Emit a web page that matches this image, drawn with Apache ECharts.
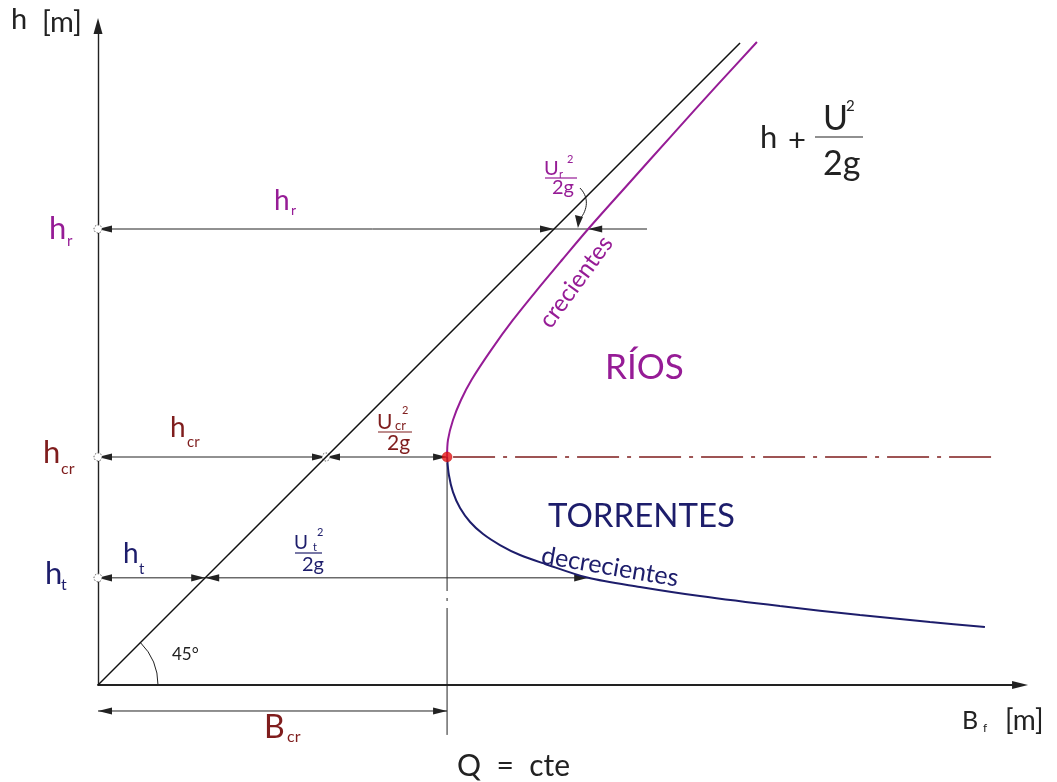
<!DOCTYPE html>
<html>
<head>
<meta charset="utf-8">
<script src="https://cdn.jsdelivr.net/npm/echarts@6/dist/echarts.min.js"></script>
<style>
  html, body { margin: 0; padding: 0; background: #ffffff; }
  #chart { width: 1057px; height: 782px; }
</style>
</head>
<body>
<div id="chart"></div>
<script>
// Specific energy B = h + U²/2g versus depth h for a constant discharge Q.
// Depths and energies are expressed relative to the critical depth (h_cr = 1).

const hCr = 1.00;            // critical depth
const bCr = 1.531;           // minimum specific energy B_cr
const hR = 2.00, eR = 2.15;  // subcritical (río) depth and its energy
const hT = 0.47, eT = 2.15;  // supercritical (torrente) depth and its energy
const hRLeaderEnd = 2.408;   // end of the h_r leader line
const bDimY = -0.114;        // level of the B_cr dimension line
const bLeadEnd = -0.219;     // lower end of the vertical line at B_cr
const critLineEnd = 3.934;   // end of the h_cr dash-dot line
const diagEnd = 2.816;       // end of the 45° line h = B

// Upper branch: ríos (crecientes) — [B, h]
const riosBranch = [
  [1.531, 1.000], [1.535, 1.075], [1.557, 1.162], [1.592, 1.250],
  [1.638, 1.338], [1.724, 1.469], [1.820, 1.601], [1.925, 1.732],
  [2.035, 1.864], [2.150, 2.000], [2.322, 2.193], [2.518, 2.412],
  [2.717, 2.632], [2.890, 2.820]
];

// Lower branch: torrentes (decrecientes) — [B, h]
const torrentesBranch = [
  [1.531, 1.000], [1.539, 0.921], [1.557, 0.846], [1.588, 0.776],
  [1.632, 0.715], [1.689, 0.662], [1.763, 0.614], [1.851, 0.570],
  [1.961, 0.531], [2.150, 0.470], [2.377, 0.430], [2.640, 0.390],
  [2.991, 0.346], [3.342, 0.307], [3.649, 0.276], [3.890, 0.254]
];

// axis ranges (same scale on both axes so that h = B runs at 45°)
const xMax = 4.044;
const yMax = 2.890;
const PX_PER_UNIT = 228;

const INK = '#222222';
const RIO = '#961c96';
const TOR = '#1d1d6b';
const CRIT = '#7f1d1d';
const DOT = '#e51515';
const FONT = 'Lato, "DejaVu Sans", sans-serif';

const chart = echarts.init(document.getElementById('chart'), null, { renderer: 'canvas' });

// text helper for the graphic layer
function txt(x, y, text, size, color, extra) {
  const el = {
    type: 'text', x: x, y: y, z: 50,
    style: {
      text: text, fontSize: size, fontFamily: FONT, fontWeight: 400, fill: color,
      align: 'left', verticalAlign: 'middle', textAlign: 'left', textVerticalAlign: 'middle'
    }
  };
  if (extra) {
    if (extra.rotation != null) el.rotation = extra.rotation;
    if (extra.center) {
      el.style.align = el.style.textAlign = 'center';
    }
  }
  return el;
}
function bar(x1, x2, y, color) {
  return { type: 'line', z: 50, shape: { x1: x1, y1: y, x2: x2, y2: y }, style: { stroke: color, lineWidth: 1.2 } };
}

// dimension lines, arrow heads, reference circles, 45° arc
function drawGuides(params, api) {
  const P = p => api.coord(p);
  const els = [];
  const seg = (a, b, stroke, w, dash) => els.push({
    type: 'line', shape: { x1: a[0], y1: a[1], x2: b[0], y2: b[1] },
    style: { stroke: stroke, lineWidth: w, lineDash: dash || null, fill: null }
  });
  const head = (p, sign) => {
    const L = 14, W = 3.6;
    els.push({ type: 'polygon', shape: { points: [[p[0], p[1]], [p[0] - sign * L, p[1] - W], [p[0] - sign * L, p[1] + W]] },
      style: { fill: INK } });
  };
  const ring = p => els.push({ type: 'circle', shape: { cx: p[0], cy: p[1], r: 4 },
    style: { stroke: '#555', lineWidth: 1, lineDash: [1.5, 1.5], fill: '#fff' } });

  // h_r row
  seg(P([0, hR]), P([hRLeaderEnd, hR]), INK, 1);
  head(P([0, hR]), -1); head(P([hR, hR]), 1); head(P([eR, hR]), -1);
  // h_cr row
  seg(P([0, hCr]), P([bCr, hCr]), INK, 1);
  head(P([0, hCr]), -1); head(P([hCr, hCr]), 1); head(P([hCr, hCr]), -1); head(P([bCr, hCr]), 1);
  // h_t row
  seg(P([0, hT]), P([eT, hT]), INK, 1);
  head(P([0, hT]), -1); head(P([hT, hT]), 1); head(P([hT, hT]), -1); head(P([eT, hT]), 1);
  // B_cr dimension
  seg(P([0, bDimY]), P([bCr, bDimY]), INK, 1);
  head(P([0, bDimY]), -1); head(P([bCr, bDimY]), 1);

  // vertical line through the critical point
  const vTop = P([bCr, hCr]);
  seg([vTop[0], vTop[1] + 6], P([bCr, bLeadEnd]), INK, 1, [128, 7, 3, 7]);
  // critical depth dash-dot line
  const cStart = P([bCr, hCr]);
  seg([cStart[0] + 6, cStart[1]], P([critLineEnd, hCr]), CRIT, 1.4, [42, 8, 4, 8]);

  ring(P([0, hR])); ring(P([0, hCr])); ring(P([0, hT])); ring(P([hCr, hCr]));

  // 45° angle arc
  const o = P([0, 0]);
  els.push({ type: 'arc', shape: { cx: o[0], cy: o[1], r: 60, startAngle: -Math.PI / 4, endAngle: 0, clockwise: true },
    style: { stroke: INK, lineWidth: 1, fill: null } });

  // curved pointer from U_r²/2g to the h_r row
  const tip = P([(hR + eR) / 2 + 0.03, hR]);
  els.push({ type: 'bezierCurve', shape: {
      x1: tip[0] + 2, y1: tip[1] - 41, cpx1: tip[0] + 13, cpy1: tip[1] - 30,
      cpx2: tip[0] + 8, cpy2: tip[1] - 16, x2: tip[0] + 1, y2: tip[1] - 9 },
    style: { stroke: INK, lineWidth: 1, fill: null } });
  els.push({ type: 'polygon', shape: { points: [[tip[0], tip[1] - 1], [tip[0] - 3, tip[1] - 14], [tip[0] + 5, tip[1] - 12]] },
    style: { fill: INK } });

  return { type: 'group', children: els };
}

const option = {
  animation: false,
  backgroundColor: '#ffffff',
  grid: { left: 98, top: 685 - yMax * PX_PER_UNIT, width: xMax * PX_PER_UNIT, height: yMax * PX_PER_UNIT },
  xAxis: {
    type: 'value', min: 0, max: xMax,
    axisLine: { show: true, symbol: ['none', 'triangle'], symbolSize: [8, 16], lineStyle: { color: INK, width: 1.8 } },
    axisTick: { show: false }, axisLabel: { show: false }, splitLine: { show: false }
  },
  yAxis: {
    type: 'value', min: 0, max: yMax,
    axisLine: { show: true, symbol: ['none', 'triangle'], symbolSize: [9, 16], lineStyle: { color: INK, width: 1.4 } },
    axisTick: { show: false }, axisLabel: { show: false }, splitLine: { show: false }
  },
  series: [
    {
      name: 'h = B', type: 'line', data: [[0, 0], [diagEnd, diagEnd]],
      symbol: 'none', lineStyle: { color: '#111', width: 1.5 }, z: 3
    },
    {
      name: 'ríos', type: 'line', data: riosBranch, smooth: 0.3,
      symbol: 'none', lineStyle: { color: RIO, width: 2 }, z: 4, clip: false
    },
    {
      name: 'torrentes', type: 'line', data: torrentesBranch, smooth: 0.3,
      symbol: 'none', lineStyle: { color: TOR, width: 2 }, z: 4, clip: false
    },
    {
      name: 'guides', type: 'custom', data: [[0, 0]], encode: { x: 0, y: 1 },
      renderItem: drawGuides, clip: false, z: 2, silent: true
    },
    {
      name: 'crítico', type: 'scatter', data: [[bCr, hCr]], symbolSize: 10,
      itemStyle: { color: DOT, borderColor: '#b00', borderWidth: 0.5 }, z: 6
    }
  ],
  graphic: [
    // axis titles
    txt(11, 20, 'h', 29, INK), txt(42, 23, '[m]', 29, INK),
    txt(962, 721, 'B', 25, INK), txt(983, 728, 'f', 12, INK), txt(1005, 721, '[m]', 28, INK),
    // depth labels on the h axis
    txt(49, 229, 'h', 31, RIO), txt(67, 241, 'r', 15, RIO),
    txt(43, 453, 'h', 31, CRIT), txt(61, 469, 'cr', 16, CRIT),
    txt(45, 574, 'h', 31, TOR), txt(61, 585, 't', 16, TOR),
    // labels above the dimension rows
    txt(274, 201, 'h', 28, RIO), txt(291, 210, 'r', 14, RIO),
    txt(170, 428, 'h', 28, CRIT), txt(187, 442, 'cr', 15, CRIT),
    txt(123, 554, 'h', 28, TOR), txt(139, 569, 't', 15, TOR),
    // velocity heads
    txt(544, 169, 'U', 20, RIO), txt(559, 174, 'r', 11, RIO), txt(567, 159, '2', 11, RIO),
    bar(545, 577, 178, RIO), txt(552, 188, '2g', 20, RIO),
    txt(377, 422, 'U', 21, CRIT), txt(395, 426, 'cr', 13, CRIT), txt(402, 410, '2', 11, CRIT),
    bar(378, 412, 432, CRIT), txt(387, 443, '2g', 21, CRIT),
    txt(294, 543, 'U', 19, TOR), txt(313, 547, 't', 11, TOR), txt(317, 532, '2', 11, TOR),
    bar(295, 322, 553, TOR), txt(302, 565, '2g', 20, TOR),
    // curve title
    txt(760, 138, 'h', 31, INK), txt(788, 141, '+', 31, INK),
    txt(823, 119, 'U', 34, INK), txt(846, 106, '2', 15, INK),
    bar(815, 863, 137, INK), txt(823, 164, '2g', 34, INK),
    // regimes
    txt(605, 368, 'RÍOS', 35, RIO),
    txt(548, 516, 'TORRENTES', 33, TOR),
    txt(576, 282, 'crecientes', 24, RIO, { rotation: 0.94, center: true }),
    txt(610, 567, 'decrecientes', 25, TOR, { rotation: -0.17, center: true }),
    // angle, B_cr, Q
    txt(172, 655, '45°', 17, INK),
    txt(264, 728, 'B', 32, CRIT), txt(287, 737, 'cr', 16, CRIT),
    txt(457, 766, 'Q  =  cte', 30, INK)
  ]
};

chart.setOption(option);
</script>
</body>
</html>
